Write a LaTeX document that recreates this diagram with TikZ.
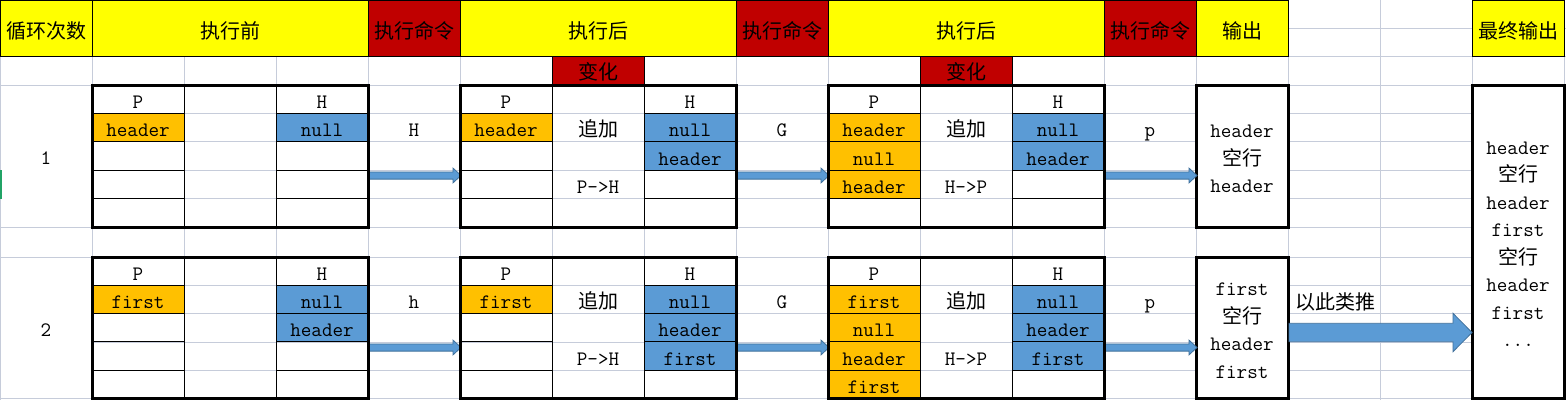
\documentclass[tikz,border=0pt]{standalone}
\usepackage{fontspec}
\newfontfamily\cjk{Noto Sans CJK SC}
\usetikzlibrary{calc}
\definecolor{hy}{HTML}{FFFF00}
\definecolor{hr}{HTML}{C00000}
\definecolor{cor}{HTML}{FFC000}
\definecolor{cbl}{HTML}{5B9BD5}
\definecolor{grd}{HTML}{C6CCDA}
\definecolor{afill}{HTML}{5B9BD5}
\definecolor{aline}{HTML}{41719C}
\definecolor{selg}{HTML}{21A366}
% start, end, half shaft, half head, head length
\newcommand\fatarr[5]{%
  \draw[arr] ($(#1)+(0,-#3)$) -- ($(#2)+(-#5,-#3)$) -- ($(#2)+(-#5,-#4)$) -- (#2)
    -- ($(#2)+(-#5,#4)$) -- ($(#2)+(-#5,#3)$) -- ($(#1)+(0,#3)$) -- cycle;}
\begin{document}
\begin{tikzpicture}[x=1pt,y=-1pt,
  tt/.style={font=\ttfamily\fontsize{20.5}{24}\selectfont, inner sep=0pt, anchor=base},
  zh/.style={font=\cjk\fontsize{20}{24}\selectfont, inner sep=0pt, anchor=base},
  hdr/.style={draw=black, line width=1pt},
  blk/.style={draw=black, line width=3pt, inner sep=0pt, outer sep=0pt,
              minimum width=276pt, minimum height=142pt},
  obox/.style={blk, minimum width=92pt},
  thinb/.style={draw=black, line width=1pt},
  gridl/.style={draw=grd, line width=0.9pt},
  arr/.style={fill=afill, draw=aline, line width=0.8pt, line join=miter}]
\useasboundingbox (0,0) rectangle (1566,400);
\fill[white] (0,0) rectangle (1566,400);
% spreadsheet grid
\foreach \i in {0,...,17} \draw[gridl] (92*\i,0) -- (92*\i,400);
\foreach \y in {28,56,85,113.4,141.8,170.2,198.6,227,257,285.3,313.6,342,370.3,398.6}
  \draw[gridl] (0,\y) -- (1566,\y);
% merged cells of first column
\fill[white] (0.6,85.6) rectangle (91.4,226.4);
\fill[white] (0.6,257.6) rectangle (91.4,398);
\fill[selg] (0,170.2) rectangle (1.8,198.6);
% header row
\filldraw[hdr,fill=hy] (0,0.5) rectangle (92,56);
\filldraw[hdr,fill=hy] (92,0.5) rectangle (368,56);
\filldraw[hdr,fill=hr] (368,0.5) rectangle (460,56);
\filldraw[hdr,fill=hy] (460,0.5) rectangle (736,56);
\filldraw[hdr,fill=hr] (736,0.5) rectangle (828,56);
\filldraw[hdr,fill=hy] (828,0.5) rectangle (1104,56);
\filldraw[hdr,fill=hr] (1104,0.5) rectangle (1196,56);
\filldraw[hdr,fill=hy] (1196,0.5) rectangle (1288,56);
\filldraw[hdr,fill=hy] (1472,0.5) rectangle (1564,56);
\filldraw[hdr,fill=hr] (552,56) rectangle (644,85);
\filldraw[hdr,fill=hr] (920,56) rectangle (1012,85);
% coloured cells, round 1
\fill[cor] (92,113.4) rectangle (184,141.8);
\fill[cbl] (276,113.4) rectangle (368,141.8);
\fill[cor] (460,113.4) rectangle (552,141.8);
\fill[cbl] (644,113.4) rectangle (736,170.2);
\fill[cor] (828,113.4) rectangle (920,198.6);
\fill[cbl] (1012,113.4) rectangle (1104,170.2);
% coloured cells, round 2
\fill[cor] (92,285.3) rectangle (184,313.6);
\fill[cbl] (276,285.3) rectangle (368,342);
\fill[cor] (460,285.3) rectangle (552,313.6);
\fill[cbl] (644,285.3) rectangle (736,370.3);
\fill[cor] (828,285.3) rectangle (920,398.6);
\fill[cbl] (1012,285.3) rectangle (1104,370.3);
% thin black cell lines inside the tables
\foreach \x in {92,460,828} {
  \foreach \t/\s in {85/28.4,257/28.32} {
    \draw[thinb] (\x+92,\t) -- (\x+92,\t+5*\s);
    \draw[thinb] (\x+184,\t) -- (\x+184,\t+5*\s);
    \foreach \k in {1,...,4} {
      \draw[thinb] (\x,\t+\k*\s) -- (\x+92,\t+\k*\s);
      \draw[thinb] (\x+184,\t+\k*\s) -- (\x+276,\t+\k*\s);
    }
  }
}
% output boxes
\node[obox,fill=white] (N1) at (1242,156) {};
\node[obox,fill=white,minimum height=141.6pt] (N2) at (1242,327.8) {};
\node[obox,fill=white,minimum height=313.6pt] (Q) at (1518,241.8) {};
% arrows
\node[blk] (T11) at (230,156) {};
\node[blk] (T12) at (598,156) {};
\node[blk] (T13) at (966,156) {};
\node[blk,minimum height=141.6pt] (T21) at (230,327.8) {};
\node[blk,minimum height=141.6pt] (T22) at (598,327.8) {};
\node[blk,minimum height=141.6pt] (T23) at (966,327.8) {};
\coordinate (s11) at ($(T11.east)+(0,19.5)$);
\coordinate (e11) at ($(T12.west)+(1,19.5)$);
\coordinate (s12) at ($(T12.east)+(0,19.5)$);
\coordinate (e12) at ($(T13.west)+(1,19.5)$);
\coordinate (s13) at ($(T13.east)+(0,19.5)$);
\coordinate (e13) at ($(N1.west)+(1,19.5)$);
\coordinate (s21) at ($(T21.east)+(0,19.7)$);
\coordinate (e21) at ($(T22.west)+(1,19.7)$);
\coordinate (s22) at ($(T22.east)+(0,19.7)$);
\coordinate (e22) at ($(T23.west)+(1,19.7)$);
\coordinate (s23) at ($(T23.east)+(0,19.7)$);
\coordinate (e23) at ($(N2.west)+(1,19.7)$);
\coordinate (bigS) at ($(N2.east)+(1,4.7)$);
\coordinate (bigE) at (Q.west |- bigS);
\fatarr{s11}{e11}{3.6}{7.4}{8}
\fatarr{s12}{e12}{3.6}{7.4}{8}
\fatarr{s13}{e13}{3.6}{7.4}{8}
\fatarr{s21}{e21}{3.6}{7.4}{8}
\fatarr{s22}{e22}{3.6}{7.4}{8}
\fatarr{s23}{e23}{3.6}{7.4}{8}
\fatarr{bigS}{bigE}{9.2}{19.2}{19}
% table borders on top
\draw[line width=3pt] (T11.north west) rectangle (T11.south east);
\draw[line width=3pt] (T12.north west) rectangle (T12.south east);
\draw[line width=3pt] (T13.north west) rectangle (T13.south east);
\draw[line width=3pt] (T21.north west) rectangle (T21.south east);
\draw[line width=3pt] (T22.north west) rectangle (T22.south east);
\draw[line width=3pt] (T23.north west) rectangle (T23.south east);
% header texts
\node[zh] (hA) at (46,38.4) {循环次数};
\node[zh] (hB) at (230,38.4) {执行前};
\node[zh] (hE) at (414,38.4) {执行命令};
\node[zh] (hF) at (598,38.4) {执行后};
\node[zh] (hI) at (782,38.4) {执行命令};
\node[zh] (hJ) at (966,38.4) {执行后};
\node[zh] (hM) at (1150,38.4) {执行命令};
\node[zh] (hN) at (1242,38.4) {输出};
\node[zh] (hQ) at (1518,38.4) {最终输出};
\node[zh] (cg1) at (598,79.6) {变化};
\node[zh] (cg2) at (966,79.6) {变化};
% round 1
\node[tt] (n1) at (46,164.5) {1};
\node[tt] (p11) at (138,108.2) {P};
\node[tt] (h11) at (322,108.2) {H};
\node[tt] (p11a) at (138,136.6) {header};
\node[tt] (h11a) at (322,136.6) {null};
\node[tt] (c11) at (414,136.6) {H};
\node[tt] (p12) at (506,108.2) {P};
\node[tt] (h12) at (690,108.2) {H};
\node[tt] (p12a) at (506,136.6) {header};
\node[zh] (g12a) at (598,136.6) {追加};
\node[tt] (h12a) at (690,136.6) {null};
\node[tt] (h12b) at (690,165) {header};
\node[tt] (g12c) at (598,193.4) {P->H};
\node[tt] (c12) at (782,136.6) {G};
\node[tt] (p13) at (874,108.2) {P};
\node[tt] (h13) at (1058,108.2) {H};
\node[tt] (p13a) at (874,136.6) {header};
\node[tt] (p13b) at (874,165) {null};
\node[tt] (p13c) at (874,193.4) {header};
\node[zh] (g13a) at (966,136.6) {追加};
\node[tt] (g13c) at (966,193.4) {H->P};
\node[tt] (h13a) at (1058,136.6) {null};
\node[tt] (h13b) at (1058,165) {header};
\node[tt] (c13) at (1150,136.6) {p};
\node[tt] (o1a) at (1242,137.3) {header};
\node[zh] (o1b) at (1242,165) {空行};
\node[tt] (o1c) at (1242,192.7) {header};
% round 2
\node[tt] (n2) at (46,336.3) {2};
\node[tt] (p21) at (138,280.2) {P};
\node[tt] (h21) at (322,280.2) {H};
\node[tt] (p21a) at (138,308.5) {first};
\node[tt] (h21a) at (322,308.5) {null};
\node[tt] (h21b) at (322,336.8) {header};
\node[tt] (c21) at (414,308.5) {h};
\node[tt] (p22) at (506,280.2) {P};
\node[tt] (h22) at (690,280.2) {H};
\node[tt] (p22a) at (506,308.5) {first};
\node[zh] (g22a) at (598,308.5) {追加};
\node[tt] (h22a) at (690,308.5) {null};
\node[tt] (h22b) at (690,336.8) {header};
\node[tt] (h22c) at (690,365.2) {first};
\node[tt] (g22c) at (598,365.2) {P->H};
\node[tt] (c22) at (782,308.5) {G};
\node[tt] (p23) at (874,280.2) {P};
\node[tt] (h23) at (1058,280.2) {H};
\node[tt] (p23a) at (874,308.5) {first};
\node[tt] (p23b) at (874,336.8) {null};
\node[tt] (p23c) at (874,365.2) {header};
\node[tt] (p23d) at (874,393.5) {first};
\node[zh] (g23a) at (966,308.5) {追加};
\node[tt] (g23c) at (966,365.2) {H->P};
\node[tt] (h23a) at (1058,308.5) {null};
\node[tt] (h23b) at (1058,336.8) {header};
\node[tt] (h23c) at (1058,365.2) {first};
\node[tt] (c23) at (1150,308.5) {p};
\node[tt] (o2a) at (1242,295.7) {first};
\node[zh] (o2b) at (1242,323.3) {空行};
\node[tt] (o2c) at (1242,350.8) {header};
\node[tt] (o2d) at (1242,378.3) {first};
\node[zh,anchor=base west] (etc) at (1295,309.6) {以此类推};
% final output
\node[tt] (q1) at (1518,154) {header};
\node[zh] (q2) at (1518,181.5) {空行};
\node[tt] (q3) at (1518,209) {header};
\node[tt] (q4) at (1518,236.5) {first};
\node[zh] (q5) at (1518,264) {空行};
\node[tt] (q6) at (1518,291.5) {header};
\node[tt] (q7) at (1518,319) {first};
\node[tt] (q8) at (1518,346.5) {...};
\end{tikzpicture}
\end{document}
